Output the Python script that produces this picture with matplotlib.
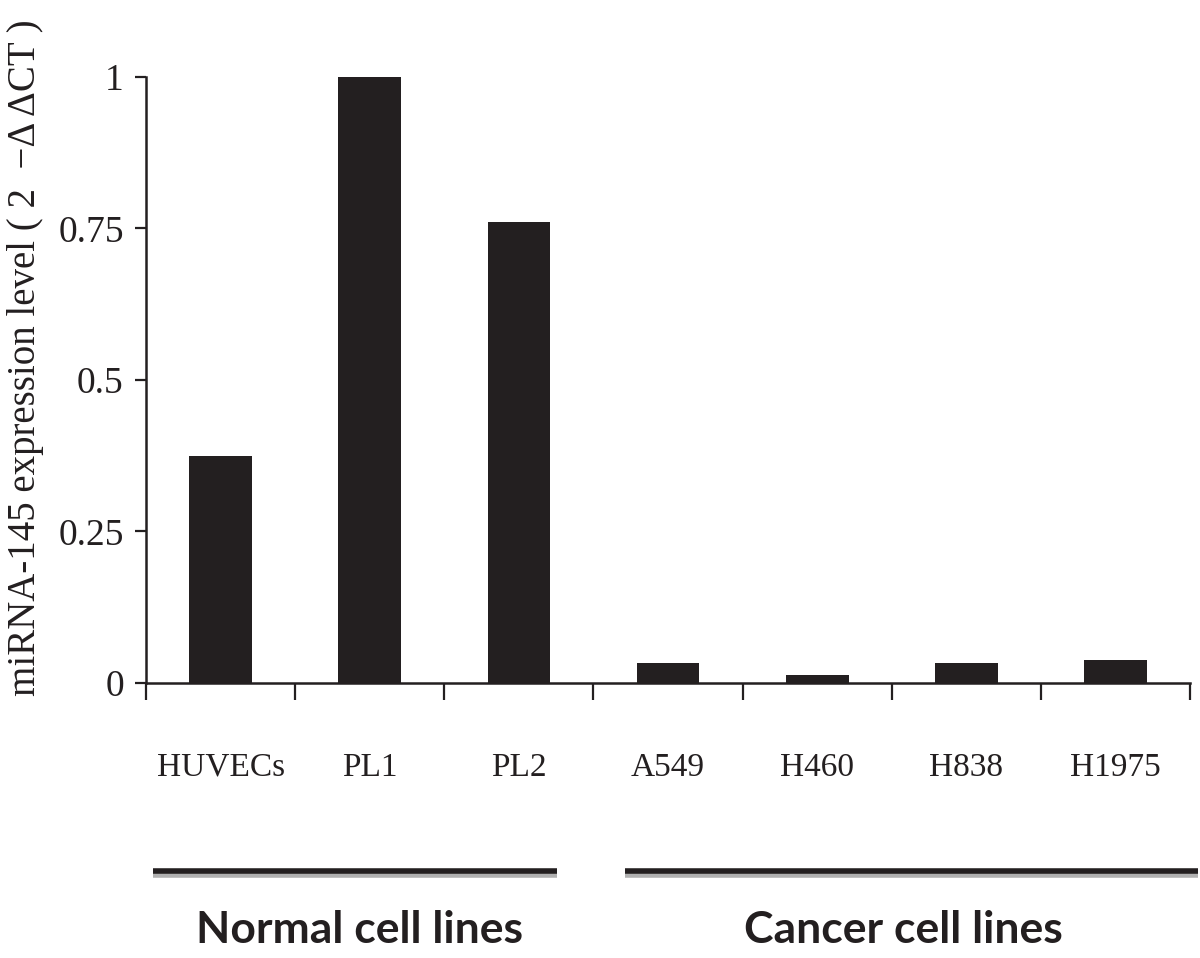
# miRNA-145 expression in normal vs cancer cell lines

import matplotlib
matplotlib.use("Agg")
from matplotlib import pyplot as plt
from matplotlib.lines import Line2D

cell_lines = ["HUVECs", "PL1", "PL2", "A549", "H460", "H838", "H1975"]
expression = [0.375, 1.0, 0.761, 0.033, 0.013, 0.033, 0.038]
y_ticks = [0, 0.25, 0.5, 0.75, 1]
y_tick_labels = ["0", "0.25", "0.5", "0.75", "1"]
groups = ["Normal cell lines", "Cancer cell lines"]

ink = "#231f20"
serif = ["Liberation Serif", "DejaVu Serif"]

fig = plt.figure(figsize=(12, 9.58), dpi=100)
ax = fig.add_axes([0.1217, 0.2871, 0.87, 0.6326])

x = range(len(cell_lines))
ax.bar(x, expression, width=0.42, color=ink, zorder=3)

ax.set_xlim(-0.5, len(cell_lines) - 0.5)
ax.set_ylim(0, 1)

# major ticks at group boundaries, labels at bar centres
ax.set_xticks([i - 0.5 for i in range(len(cell_lines) + 1)])
ax.set_xticklabels([])
ax.set_xticks(list(x), minor=True)
ax.set_xticklabels(cell_lines, minor=True, fontsize=24, family=serif, color=ink)
ax.tick_params(axis="x", which="major", direction="out", length=12, width=1.6, color=ink)
ax.tick_params(axis="x", which="minor", length=0, pad=50)

ax.set_yticks(y_ticks)
ax.set_yticklabels(y_tick_labels, fontsize=27, family=serif, color=ink)
ax.tick_params(axis="y", direction="out", length=8, width=1.6, color=ink, pad=8)

for side in ["top", "right"]:
    ax.spines[side].set_visible(False)
for side in ["left", "bottom"]:
    ax.spines[side].set_linewidth(1.8)
    ax.spines[side].set_color(ink)

fig.text(0.021, 1 - 358 / 958, "miRNA-145 expression level ( 2  \u2212\u0394 \u0394CT )",
         rotation=90, ha="center", va="center", fontsize=28, family=serif, color=ink)

# group bars with a grey shadow underneath
for x0, x1 in [(153, 557), (625, 1198)]:
    fig.add_artist(Line2D([x0 / 1200, x1 / 1200], [1 - 875 / 958] * 2,
                          color="#b0b0b0", lw=4, solid_capstyle="butt"))
    fig.add_artist(Line2D([x0 / 1200, x1 / 1200], [1 - 871 / 958] * 2,
                          color=ink, lw=4, solid_capstyle="butt"))

fig.text(360 / 1200, 1 - 930 / 958, groups[0], ha="center", va="center",
         fontsize=32, fontweight="bold", family=["Lato", "DejaVu Sans"], color=ink)
fig.text(903 / 1200, 1 - 930 / 958, groups[1], ha="center", va="center",
         fontsize=32, fontweight="bold", family=["Lato", "DejaVu Sans"], color=ink)

plt.savefig("out.png", dpi=100)
